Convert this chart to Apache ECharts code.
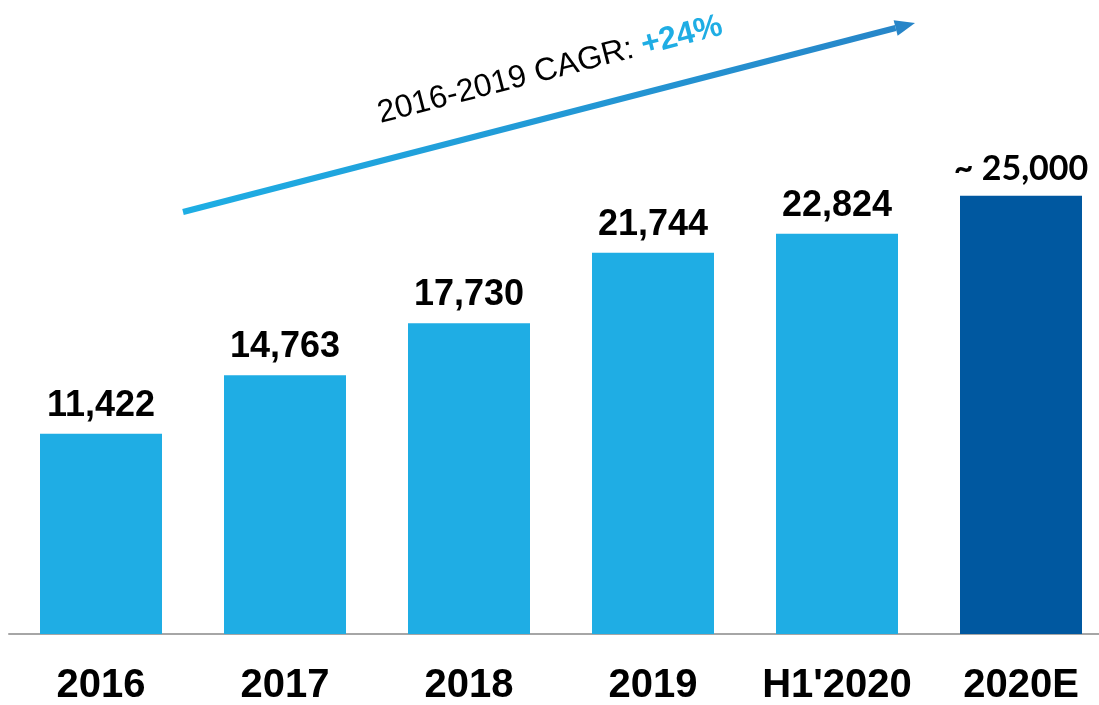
<!DOCTYPE html>
<html>
<head>
<meta charset="utf-8">
<script src="https://cdn.jsdelivr.net/npm/echarts@6/dist/echarts.min.js"></script>
<style>
  html, body { margin: 0; padding: 0; background: #fff; }
  #chart { width: 1099px; height: 705px; }
</style>
</head>
<body>
<div id="chart"></div>
<script>
  // data
  const categories = ['2016', '2017', '2018', '2019', "H1'2020", '2020E']
  const values = [11422, 14763, 17730, 21744, 22824, 25000]
  const estimateIndex = 5 // 2020E is an estimate, shown darker with "~"
  const cagrLabel = '2016-2019 CAGR: '
  const cagrValue = '+24%'

  const lightBlue = '#1FADE4'
  const darkBlue = '#0058A0'

  const fmt = v => v.toLocaleString('en-US')

  const seriesData = values.map((v, i) => {
    if (i !== estimateIndex) return v
    return {
      value: v,
      itemStyle: { color: darkBlue },
      label: {
        formatter: p => '~ ' + fmt(p.value),
        fontFamily: 'Lato',
        fontSize: 34
      }
    }
  })

  const chart = echarts.init(document.getElementById('chart'))

  // arrow geometry (annotation only)
  const ax0 = 183, ay0 = 212, ax1 = 915, ay1 = 23
  const ang = Math.atan2(ay0 - ay1, ax1 - ax0)
  const headLen = 20, headHalf = 8
  const ux = Math.cos(ang), uy = -Math.sin(ang)
  const bx = ax1 - ux * headLen, by = ay1 - uy * headLen

  chart.setOption({
    animation: false,
    backgroundColor: '#fff',
    grid: {
      left: 9,
      right: -14,
      top: 108,
      bottom: 71,
      containLabel: false,
      outerBoundsMode: 'none'
    },
    xAxis: {
      type: 'category',
      data: categories,
      axisTick: { show: false },
      axisLine: { lineStyle: { color: '#A6A6A6', width: 2 } },
      axisLabel: {
        interval: 0,
        hideOverlap: false,
        color: '#000',
        fontFamily: 'Liberation Sans',
        fontWeight: 'bold',
        fontSize: 40,
        margin: 32
      }
    },
    yAxis: {
      type: 'value',
      min: 0,
      max: 30000,
      show: false,
      splitLine: { show: false }
    },
    series: [{
      type: 'bar',
      data: seriesData,
      barWidth: 122,
      itemStyle: { color: lightBlue },
      label: {
        show: true,
        position: 'top',
        distance: 10,
        color: '#000',
        fontFamily: 'Liberation Sans',
        fontWeight: 'bold',
        fontSize: 36,
        formatter: p => fmt(p.value)
      }
    }],
    graphic: [
      {
        type: 'line',
        shape: { x1: ax0, y1: ay0, x2: bx, y2: by },
        style: {
          lineWidth: 6,
          stroke: new echarts.graphic.LinearGradient(ax0, 0, ax1, 0, [
            { offset: 0, color: '#1EAEE4' },
            { offset: 1, color: '#2785C8' }
          ], true)
        }
      },
      {
        type: 'polygon',
        shape: {
          points: [
            [ax1, ay1],
            [bx - uy * headHalf * -1, by + ux * headHalf * -1],
            [bx + uy * headHalf * -1, by - ux * headHalf * -1]
          ]
        },
        style: { fill: '#2785C8' }
      },
      {
        type: 'text',
        x: 550,
        y: 70,
        rotation: ang,
        style: {
          text: '{a|' + cagrLabel + '}{b|' + cagrValue + '}',
          align: 'center',
          verticalAlign: 'middle',
          rich: {
            a: { fontFamily: 'Liberation Sans', fontSize: 32, fill: '#000' },
            b: { fontFamily: 'Liberation Sans', fontSize: 32, fontWeight: 'bold', fill: '#1FADE4' }
          }
        }
      }
    ]
  })
</script>
</body>
</html>
